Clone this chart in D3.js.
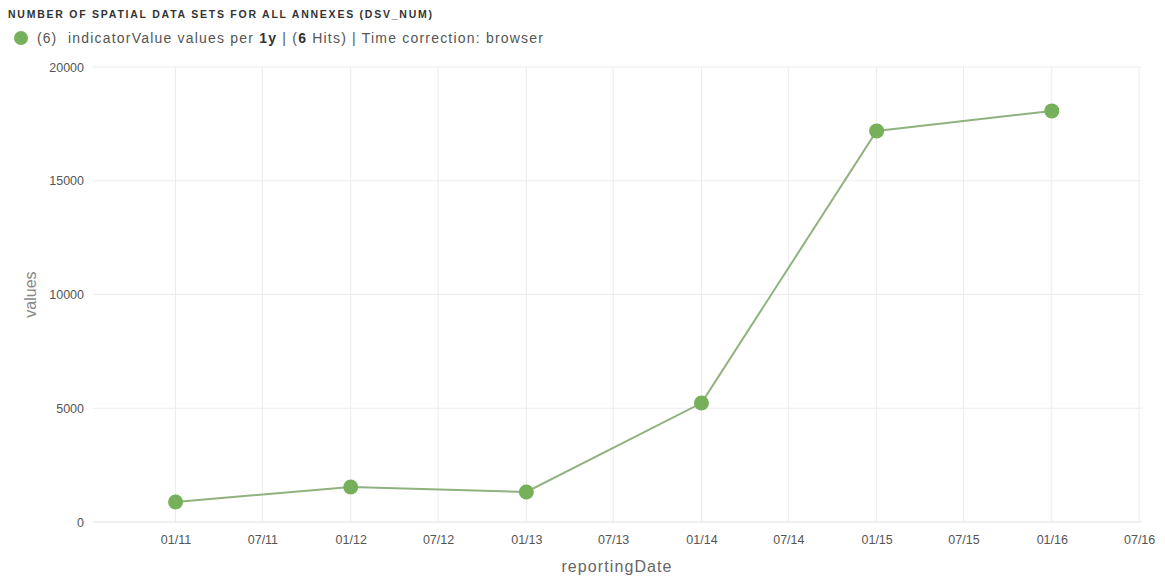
<!DOCTYPE html>
<html><head><meta charset="utf-8">
<script src="https://cdn.jsdelivr.net/npm/d3@7/dist/d3.min.js"></script>
<style>
body{margin:0;background:#fff;font-family:"Liberation Sans",Arial,sans-serif;}
</style></head>
<body><svg id="c" width="1165" height="578"></svg>
<script>
const dates = ["2011-01-01","2012-01-01","2013-01-01","2014-01-01","2015-01-01","2016-01-01"];
const values = [880, 1540, 1320, 5230, 17190, 18070];
const yTicks = [0, 5000, 10000, 15000, 20000];
const xTickDates = ["2011-01-01","2011-07-01","2012-01-01","2012-07-01","2013-01-01","2013-07-01","2014-01-01","2014-07-01","2015-01-01","2015-07-01","2016-01-01","2016-07-01"];
const xTickLabels = ["01/11","07/11","01/12","07/12","01/13","07/13","01/14","07/14","01/15","07/15","01/16","07/16"];
const title = "NUMBER OF SPATIAL DATA SETS FOR ALL ANNEXES (DSV_NUM)";

const parse = d3.utcParse("%Y-%m-%d");
const svg = d3.select("#c");
const L = 93, R = 1142, T = 67, B = 522;
const x = d3.scaleUtc().domain([parse("2010-07-13"), parse("2016-07-07")]).range([L, R]);
const y = d3.scaleLinear().domain([0, 20000]).range([B, T]);

// title
svg.append("text").attr("x", 8).attr("y", 18).attr("font-size", 10.5).attr("font-weight", "bold")
  .attr("fill", "#333").attr("textLength", 424).attr("lengthAdjust", "spacing").text(title);
// legend
svg.append("circle").attr("cx", 21).attr("cy", 38).attr("r", 7).attr("fill", "#76b05a");
svg.append("text").attr("x", 37).attr("y", 43).attr("font-size", 14).attr("fill", "#555")
  .attr("letter-spacing", 1).text("(6)");
const lt = svg.append("text").attr("x", 68).attr("y", 43).attr("font-size", 14).attr("fill", "#555")
  .attr("letter-spacing", 1.2);
lt.append("tspan").text("indicatorValue values per ");
lt.append("tspan").attr("font-weight", "bold").attr("fill", "#333").text("1y");
lt.append("tspan").text(" | (");
lt.append("tspan").attr("font-weight", "bold").attr("fill", "#333").text("6");
lt.append("tspan").text(" Hits) | Time correction: browser");

// gridlines
const xt = xTickDates.map(parse);
svg.append("g").selectAll("line").data(xt).join("line")
  .attr("x1", d => x(d)).attr("x2", d => x(d)).attr("y1", T).attr("y2", B)
  .attr("stroke", "#ececec").attr("stroke-width", 1);
svg.append("g").selectAll("line").data(yTicks).join("line")
  .attr("x1", L).attr("x2", R).attr("y1", d => y(d)).attr("y2", d => y(d))
  .attr("stroke", d => d === 0 ? "#e2e2e2" : "#ececec").attr("stroke-width", 1);

// axes
const yAxis = svg.append("g").attr("transform", `translate(${L},0)`)
  .call(d3.axisLeft(y).tickValues(yTicks).tickSize(0).tickPadding(9).tickFormat(d3.format("d")));
yAxis.select(".domain").remove();
yAxis.selectAll("text").attr("font-size", 12.5).attr("fill", "#555").attr("font-family", "Liberation Sans, Arial, sans-serif");

const xAxis = svg.append("g").attr("transform", `translate(0,${B})`)
  .call(d3.axisBottom(x).tickValues(xt).tickSize(0).tickPadding(13).tickFormat((d, i) => xTickLabels[i]));
xAxis.select(".domain").remove();
xAxis.selectAll("text").attr("font-size", 12.5).attr("fill", "#555").attr("font-family", "Liberation Sans, Arial, sans-serif");

// axis labels
svg.append("text").attr("transform", `translate(36,${(T + B) / 2}) rotate(-90)`)
  .attr("text-anchor", "middle").attr("font-size", 16).attr("fill", "#888").text("values");
svg.append("text").attr("x", 617).attr("y", 572).attr("text-anchor", "middle")
  .attr("font-size", 16).attr("fill", "#666").attr("letter-spacing", 1.1).text("reportingDate");

// line + points
const data = dates.map((d, i) => ({ d: parse(d), v: values[i] }));
svg.append("path").datum(data)
  .attr("d", d3.line().x(p => x(p.d)).y(p => y(p.v)))
  .attr("fill", "none").attr("stroke", "#8fb27f").attr("stroke-width", 2);
svg.append("g").selectAll("circle").data(data).join("circle")
  .attr("cx", p => x(p.d)).attr("cy", p => y(p.v)).attr("r", 7.5).attr("fill", "#76b05a");
</script></body></html>
